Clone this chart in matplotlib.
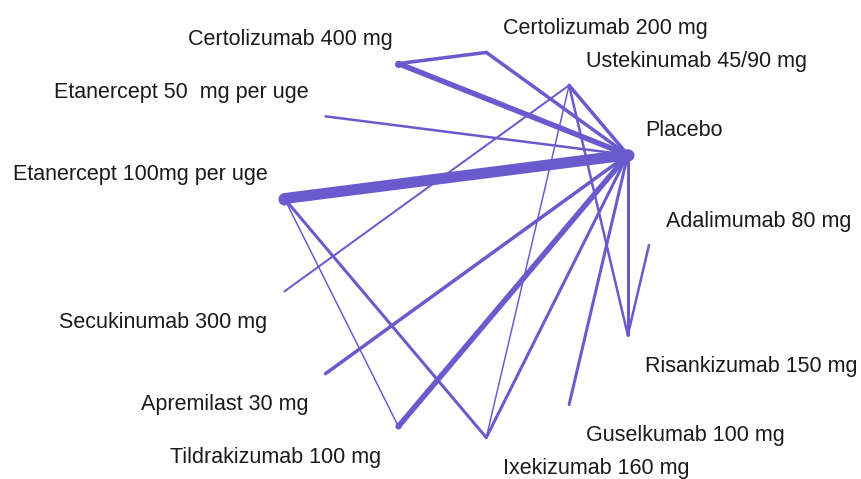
import numpy as np
import matplotlib
matplotlib.use("Agg")
import matplotlib.pyplot as plt

# Treatments in circular-layout order (counter-clockwise starting at 3 o'clock)
treatments = [
    "Adalimumab 80 mg",
    "Placebo",
    "Ustekinumab 45/90 mg",
    "Certolizumab 200 mg",
    "Certolizumab 400 mg",
    "Etanercept 50  mg per uge",
    "Etanercept 100mg per uge",
    "Secukinumab 300 mg",
    "Apremilast 30 mg",
    "Tildrakizumab 100 mg",
    "Ixekizumab 160 mg",
    "Guselkumab 100 mg",
    "Risankizumab 150 mg",
]
# node sizes (relative weight of each treatment node)
node_weight = [0, 12, 0, 0, 7, 0, 12, 0, 0, 6, 0, 0, 0]

# direct comparisons (edges) and their weights
edge_from = ["Placebo", "Placebo", "Placebo", "Placebo", "Placebo", "Placebo",
             "Placebo", "Placebo", "Placebo", "Placebo",
             "Certolizumab 400 mg", "Risankizumab 150 mg",
             "Ustekinumab 45/90 mg", "Ustekinumab 45/90 mg", "Ustekinumab 45/90 mg",
             "Etanercept 100mg per uge", "Etanercept 100mg per uge"]
edge_to = ["Etanercept 100mg per uge", "Certolizumab 400 mg", "Certolizumab 200 mg",
           "Ustekinumab 45/90 mg", "Etanercept 50  mg per uge", "Apremilast 30 mg",
           "Tildrakizumab 100 mg", "Ixekizumab 160 mg", "Guselkumab 100 mg",
           "Risankizumab 150 mg",
           "Certolizumab 200 mg", "Adalimumab 80 mg",
           "Secukinumab 300 mg", "Ixekizumab 160 mg", "Risankizumab 150 mg",
           "Tildrakizumab 100 mg", "Ixekizumab 160 mg"]
edge_weight = [11, 5.5, 3.5, 3.5, 2.5, 3.5, 5.5, 3, 3, 3, 3.5, 2.5, 2, 1.5, 2.5, 1.5, 3]

COLOR = "#6a5acd"

fig = plt.figure(figsize=(8.61, 4.79), dpi=100)
ax = fig.add_axes([0, 0, 1, 1])
# ellipse layout: unit circle scaled by axes limits
cx, cy, rx, ry = 464.0, 245.0, 185.0, 194.0
W, H = 861.0, 479.0
ax.set_xlim(-cx / rx, (W - cx) / rx)
ax.set_ylim((cy - H) / ry, cy / ry)
ax.axis("off")

n = len(treatments)
ang = 2 * np.pi * np.arange(n) / n
pos = {t: (np.cos(a), np.sin(a)) for t, a in zip(treatments, ang)}

for a, b, w in zip(edge_from, edge_to, edge_weight):
    (x1, y1), (x2, y2) = pos[a], pos[b]
    ax.plot([x1, x2], [y1, y2], color=COLOR, lw=w * 0.72,
            solid_capstyle="round", zorder=2)

for t, s in zip(treatments, node_weight):
    if s > 0:
        x, y = pos[t]
        ax.plot([x], [y], "o", color=COLOR, ms=s * 0.72, mec="none", zorder=3)

for t, a in zip(treatments, ang):
    x, y = pos[t]
    c, s = np.cos(a), np.sin(a)
    dx = 17 if c > 0.01 else -17
    if t == "Certolizumab 400 mg":
        dx = -6
    dy = 24 if s > -0.01 else -31
    ax.annotate(t, (x, y), xytext=(dx * 0.72, dy * 0.72), textcoords="offset points",
                ha="left" if dx > 0 else "right", va="center",
                fontsize=15.5, family="Liberation Sans", color="#1a1a1a")

fig.savefig("out.png", dpi=100, facecolor="white")
